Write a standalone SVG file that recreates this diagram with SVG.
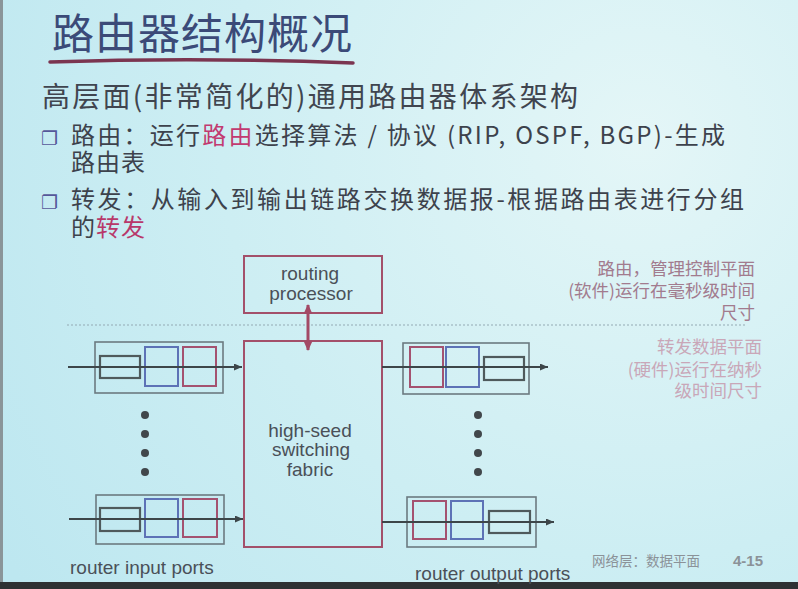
<svg xmlns="http://www.w3.org/2000/svg" width="798" height="589" viewBox="0 0 798 589">
<defs>
<radialGradient id="bg" cx="640" cy="140" r="760" gradientUnits="userSpaceOnUse">
<stop offset="0" stop-color="#e4f6f7"/>
<stop offset="0.55" stop-color="#cdeef3"/>
<stop offset="1" stop-color="#bde7f0"/>
</radialGradient>
<marker id="ah" markerWidth="8" markerHeight="7" refX="8" refY="3.5" orient="auto" markerUnits="userSpaceOnUse">
<path d="M0,0 L8,3.5 L0,7 Z" fill="#3d4649"/>
</marker>
<marker id="ahr" markerWidth="10" markerHeight="9" refX="9" refY="4.5" orient="auto-start-reverse" markerUnits="userSpaceOnUse">
<path d="M0,0 L10,4.5 L0,9 Z" fill="#a34a66"/>
</marker>
<style>
.cjk{font-family:"Noto Sans CJK SC","Noto Sans",sans-serif}
.body{fill:#3d424c;font-size:24px}
.bul{font-family:"DejaVu Sans",sans-serif;font-size:19px;fill:#55579a}
.hl{fill:#c23a70}
.lbl{font-family:"Liberation Sans",Arial,sans-serif;font-size:19px;fill:#4a5058}
.big{stroke:#a3506a;stroke-width:2;fill:none}
.outer{stroke:#6c7a80;stroke-width:1.6;fill:none}
.small{stroke:#4f5a5c;stroke-width:2.2;fill:none}
.blue{stroke:#5d72b6;stroke-width:2;fill:none}
.red{stroke:#a45270;stroke-width:2;fill:none}
.pline{stroke:#3d4649;stroke-width:2;fill:none}
.dot{fill:#41474b}
.note1{fill:#a27b8e;font-size:17.5px}
.note2{fill:#c9a7b8;font-size:17.5px}
</style>
</defs>
<rect width="798" height="589" fill="url(#bg)"/>
<rect x="0" y="0" width="3" height="589" fill="#8a9599"/>
<rect x="0" y="582" width="798" height="7" fill="#2e3133"/>

<g id="title">
<text class="cjk" x="52" y="49" font-size="42" fill="#3b4a78" textLength="300" lengthAdjust="spacing">路由器结构概况</text>
<path d="M50,62 Q200,57 353,63" stroke="#7b3550" stroke-width="3.5" fill="none" stroke-linecap="round"/>
</g>

<g id="text">
<text class="cjk" x="42" y="107" font-size="28" fill="#40454f" textLength="536" lengthAdjust="spacing">高层面(非常简化的)通用路由器体系架构</text>
<text class="bul" x="41" y="145">❐</text>
<text class="cjk body"><tspan x="71" y="144" textLength="654" lengthAdjust="spacing">路由：运行<tspan class="hl">路由</tspan>选择算法 / 协议 (RIP, OSPF, BGP)-生成</tspan><tspan x="71" y="171" letter-spacing="1">路由表</tspan></text>
<text class="bul" x="41" y="209">❐</text>
<text class="cjk body"><tspan x="71" y="208" textLength="673" lengthAdjust="spacing">转发：从输入到输出链路交换数据报-根据路由表进行分组</tspan><tspan x="71" y="236" letter-spacing="1">的<tspan fill="#b8386a">转发</tspan></tspan></text>
</g>

<line x1="67" y1="325" x2="746" y2="325" stroke="#93a9b4" stroke-width="1.2" stroke-dasharray="2,2"/>

<g id="routing-processor">
<rect class="big" x="244" y="256" width="138" height="57"/>
<text class="lbl" x="310" y="280" text-anchor="middle">routing</text>
<text class="lbl" x="311" y="300" text-anchor="middle">processor</text>
</g>

<g id="switching-fabric">
<rect class="big" x="244" y="341" width="138" height="206"/>
<text class="lbl" x="310" y="437" text-anchor="middle">high-seed</text>
<text class="lbl" x="311" y="456" text-anchor="middle">switching</text>
<text class="lbl" x="310" y="476" text-anchor="middle">fabric</text>
</g>

<g id="input-port-1">
<rect class="outer" x="95" y="342" width="128" height="51"/>
<rect class="small" x="100" y="356" width="40" height="22"/>
<rect class="blue" x="145" y="347" width="33" height="39"/>
<rect class="red" x="183" y="347" width="33" height="39"/>
</g>
<g id="input-port-2">
<rect class="outer" x="96" y="495" width="128" height="49"/>
<rect class="small" x="100" y="508" width="40" height="23"/>
<rect class="blue" x="145" y="499" width="33" height="38"/>
<rect class="red" x="183" y="499" width="34" height="38"/>
</g>
<g id="output-port-1">
<rect class="outer" x="403" y="343" width="126" height="51"/>
<rect class="red" x="410" y="347" width="33" height="40"/>
<rect class="blue" x="446" y="347" width="33" height="40"/>
<rect class="small" x="484" y="357" width="40" height="23"/>
</g>
<g id="output-port-2">
<rect class="outer" x="407" y="497" width="129" height="50"/>
<rect class="red" x="413" y="501" width="33" height="38"/>
<rect class="blue" x="451" y="501" width="32" height="38"/>
<rect class="small" x="489" y="511" width="41" height="22"/>
</g>

<g id="input-dots">
<circle class="dot" cx="145" cy="415" r="4"/>
<circle class="dot" cx="145" cy="434" r="4"/>
<circle class="dot" cx="145" cy="453" r="4"/>
<circle class="dot" cx="145" cy="472" r="4"/>
</g>
<g id="output-dots">
<circle class="dot" cx="478" cy="415" r="4"/>
<circle class="dot" cx="478" cy="434" r="4"/>
<circle class="dot" cx="478" cy="453" r="4"/>
<circle class="dot" cx="478" cy="472" r="4"/>
</g>

<g id="connectors">
<line class="pline" x1="68" y1="367" x2="242" y2="367" marker-end="url(#ah)"/>
<line class="pline" x1="69" y1="519" x2="243" y2="519" marker-end="url(#ah)"/>
<line class="pline" x1="382" y1="367" x2="548" y2="367" marker-end="url(#ah)"/>
<line class="pline" x1="382" y1="522" x2="554" y2="522" marker-end="url(#ah)"/>
<line x1="308" y1="305" x2="308" y2="350" stroke="#a34a66" stroke-width="3" marker-start="url(#ahr)" marker-end="url(#ahr)"/>
</g>

<g id="annotations" class="cjk">
<text class="note1" x="755" y="275" text-anchor="end">路由，管理控制平面</text>
<text class="note1" x="755" y="297" text-anchor="end">(软件)运行在毫秒级时间</text>
<text class="note1" x="755" y="319" text-anchor="end">尺寸</text>
<text class="note2" x="762" y="353" text-anchor="end">转发数据平面</text>
<text class="note2" x="762" y="376" text-anchor="end">(硬件)运行在纳秒</text>
<text class="note2" x="762" y="397" text-anchor="end">级时间尺寸</text>
</g>

<g id="labels">
<text class="lbl" x="70" y="574" fill="#3f454a">router input ports</text>
<text class="lbl" x="415" y="580" fill="#3f454a">router output ports</text>
<text class="cjk" x="592" y="566" font-size="13.5" fill="#8b9298">网络层：数据平面</text>
<text x="733" y="566" font-family="Liberation Sans,Arial,sans-serif" font-size="15" font-weight="bold" fill="#8b9298">4-15</text>
</g>
</svg>
